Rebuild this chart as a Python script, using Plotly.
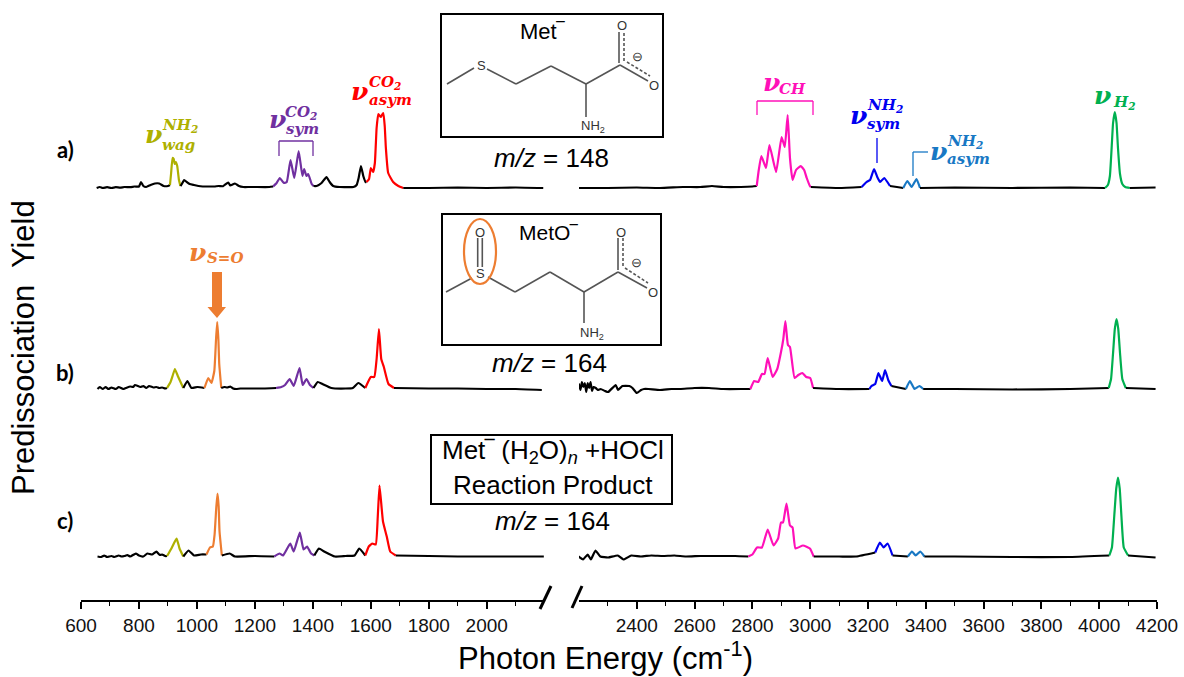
import plotly.graph_objects as go

W, H = 1184, 677

# ---------- data: photon energy (cm-1) and predissociation yield (arb.) ----------
a_left_x = [654,665,675,690,705,720,735,750,770,785,800,807,815,825,840,855,870,885,900,907,911,916,920,923,927,932,938,943,948,956,965,975,990,1005,1020,1040,1060,1075,1090,1108,1115,1131,1145,1160,1180,1200,1250,1263,1275,1286,1300,1310,1323,1336,1351,1364,1370,1378,1384,1396,1402,1413,1430,1447,1458,1470,1493,1540,1551,1558,1566,1574,1582,1585,1594,1600,1608,1614,1620,1626,1634,1643,1648,1652,1660,1677,1695,1712,1800,1900,2000,2100,2195]
a_left_y = [0,1,0,.8,0,.8,.3,1,.8,1.5,1.5,6,2,1,3,4.5,4.5,2,2,3,15,30,29,24,26,22,8,2,4,8,6,4,3,2,1.5,1.5,1.5,2,1.8,5.5,2.5,4.5,2,1,1,1,1,1.5,5,10,5,6,28,10,37,12,19,12,14,4,2,2,5,11,6,2,1,1,3,10,22,12,6,6,9,20,16,25,60,74,71,75,62,40,15,6,2,0,0,.5,0,.5,0]
a_right_x = [2200,2300,2400,2480,2560,2620,2660,2700,2760,2800,2815,2822,2831,2847,2859,2882,2901,2912,2922,2930,2939,2951,2967,2979,2988,2999,3002,3100,3178,3195,3207,3221,3232,3242,3256,3276,3300,3322,3336,3351,3368,3380,3500,3700,3900,4020,4030,4037,4043,4048,4054,4060,4065,4072,4080,4090,4106,4195]
a_right_y = [0,0,.5,0,1,1,2,1,1,1.5,2,18,32,20,43,16,51,41,73,30,8,18,22,18,10,2,1,0,1,6,8,19,11,6,10,2,1,0,7,1,9,0,.5,0,.5,0,3,12,40,65,76,65,40,14,4,1,0,.5]

b_left_x = [657,665,675,685,695,705,720,730,745,755,770,780,786,805,815,825,835,850,860,870,880,890,897,909,917,924,934,953,967,981,1002,1026,1039,1050,1060,1066,1070,1074,1077,1084,1095,1105,1115,1125,1135,1150,1175,1230,1273,1291,1304,1320,1334,1354,1365,1378,1390,1402,1417,1433,1464,1513,1538,1557,1581,1600,1612,1620,1628,1636,1645,1661,1680,1800,1900,2000,2100,2190]
b_left_y = [0,2,0,2,0,1.5,0,2,0,1,2.5,2,4,2,3,1,3,1.5,2,1,1.5,.5,1,7,14,20,13,1,8,1,2,1,11,6,18,50,67,50,25,1,2,1.5,2.5,.5,0,.5,.5,.5,1,2,4,10,3,21,4,10,4,1,7,5,1,.5,1,6,1,12,12,30,60,30,22,5,1,.5,.5,0,0,-1]
b_right_x = [2195,2200,2205,2210,2215,2220,2225,2230,2235,2240,2245,2250,2258,2265,2275,2290,2301,2327,2335,2350,2374,2385,2400,2415,2425,2440,2480,2520,2550,2600,2650,2700,2770,2793,2806,2820,2833,2842,2853,2870,2886,2899,2907,2914,2923,2930,2946,2959,2973,2986,3000,3010,3100,3205,3212,3225,3236,3249,3259,3270,3281,3331,3345,3361,3378,3391,3500,3700,3900,4033,4041,4048,4054,4060,4066,4072,4080,4092,4195]
b_right_y = [0,5,-1,7,2,6,-3,6,1,7,-2,2,1,-1,0,-2,-3,4,-1,3,3,1,-4,-1,0,0,-1,0,0,1,1,0,0,0,8,7,15,15,31,12,20,37,50,68,44,42,11,14,16,12,11,1,0,0,3,5,16,8,19,9,3,0,8,0,3,0,0,-.5,0,1,10,36,60,70,60,36,10,1,0]

c_left_x = [657,670,680,690,705,715,730,740,750,760,770,789,800,815,829,845,860,872,880,890,897,912,922,930,940,953,971,990,1014,1033,1045,1055,1061,1067,1071,1075,1078,1086,1113,1131,1200,1267,1285,1297,1322,1334,1355,1368,1380,1394,1405,1421,1439,1476,1513,1544,1560,1581,1593,1605,1617,1624,1630,1642,1655,1667,1686,1800,1900,2000,2100,2197]
c_left_y = [0,-.5,1,-.5,.5,-.5,1,0,.5,1.5,0,3,1,0,3,2,5,1.5,2,.5,.5,8,14,18,8,0,6,1,2,2,9,10,22,50,63,50,25,1,3,0,.5,0,3,1,13,5,24,7,10,3,1,8,5,0,.5,1,8,1,10,13,12,40,71,35,20,5,1,.5,0,0,0,0]
c_right_x = [2198,2214,2230,2241,2257,2274,2301,2334,2354,2381,2414,2450,2490,2530,2570,2620,2680,2740,2786,2800,2816,2833,2853,2873,2889,2899,2906,2918,2930,2939,2949,2975,2999,3012,3100,3159,3225,3241,3254,3268,3285,3338,3352,3365,3381,3395,3500,3700,3900,4035,4044,4052,4059,4065,4071,4077,4085,4100,4195]
c_right_y = [0,-3,2,-3,6,0,-1,1,-3,1,0,1,.5,1,0,.5,.5,.5,0,2,9,9,27,11,18,34,34,53,31,29,8,11,8,0,0,0,4,14,9,13,1,0,5,1,5,0,0,-.5,-.5,1,9,40,68,79,68,40,9,1,-1]

# colour families
olive = "#AEB000"; purple = "#7030A0"; red = "#FF0000"; magenta = "#FF10B8"
blue = "#0000F0"; sky = "#1878C4"; green = "#00B050"; orange = "#ED7D31"

a_bands = [(907, 943, olive), (1263, 1402, purple), (1585, 1712, red), (2815, 3002, magenta),
           (3178, 3276, blue), (3322, 3380, sky), (4020, 4106, green)]
b_bands = [(897, 953, olive), (1026, 1084, orange), (1273, 1402, purple), (1581, 1680, red),
           (2793, 3010, magenta), (3205, 3281, blue), (3331, 3391, sky), (4033, 4092, green)]
c_bands = [(897, 953, olive), (1033, 1086, orange), (1267, 1405, purple), (1581, 1686, red),
           (2786, 3012, magenta), (3225, 3285, blue), (3338, 3395, sky), (4035, 4100, green)]

a_offset, b_offset, c_offset = 412, 211, 43.5

left_ticks = [600, 800, 1000, 1200, 1400, 1600, 1800, 2000]
left_minor = [700, 900, 1100, 1300, 1500, 1700, 1900, 2100]
right_ticks = [2400, 2600, 2800, 3000, 3200, 3400, 3600, 3800, 4000, 4200]
right_minor = [2300, 2500, 2700, 2900, 3100, 3300, 3500, 3700, 3900, 4100]

def px(x): return x / W
def py(y): return 1 - y / H

fig = go.Figure()

def color_of(xv, bands):
    for lo, hi, c in bands:
        if lo <= xv < hi:
            return c
    return "black"

def add_spectrum(xs, ys, offset, bands, xaxis):
    start = 0
    for i in range(1, len(xs) + 1):
        if i == len(xs) or color_of(xs[i], bands) != color_of(xs[start], bands):
            end = min(i, len(xs) - 1)
            fig.add_trace(go.Scatter(
                x=xs[start:end + 1], y=[v + offset for v in ys[start:end + 1]],
                mode="lines", xaxis=xaxis, yaxis="y", hoverinfo="skip",
                line=dict(color=color_of(xs[start], bands), width=2.2, shape="spline", smoothing=0.4)))
            start = i

add_spectrum(a_left_x, a_left_y, a_offset, a_bands, "x")
add_spectrum(a_right_x, a_right_y, a_offset, a_bands, "x2")
add_spectrum(b_left_x, b_left_y, b_offset, b_bands, "x")
add_spectrum(b_right_x, b_right_y, b_offset, b_bands, "x2")
add_spectrum(c_left_x, c_left_y, c_offset, c_bands, "x")
add_spectrum(c_right_x, c_right_y, c_offset, c_bands, "x2")

shapes, ann = [], []

def seg(x0, y0, x1, y1, color="#555555", width=1.6, dash=None):
    shapes.append(dict(type="line", xref="paper", yref="paper", x0=px(x0), y0=py(y0), x1=px(x1), y1=py(y1),
                       line=dict(color=color, width=width, dash=dash)))

def rect(x0, y0, x1, y1, color="black", width=2, fill=None):
    shapes.append(dict(type="rect", xref="paper", yref="paper", x0=px(x0), y0=py(y0), x1=px(x1), y1=py(y1),
                       line=dict(color=color, width=width), fillcolor=fill))

def txt(x, y, s, size=16, color="black", family="Liberation Sans", angle=0, anchor="center"):
    ann.append(dict(x=px(x), y=py(y), xref="paper", yref="paper", text=s, showarrow=False,
                    font=dict(size=size, color=color, family=family), textangle=angle,
                    xanchor=anchor, yanchor="middle", align="center"))

SERIF = "DejaVu Serif"
def nu(x, y, color, size=25):
    txt(x, y, "<b><i>ν</i></b>", size=size, color=color, family=SERIF)
def lab(x, y, s, color, size=15):
    txt(x, y, "<b><i>" + s + "</i></b>", size=size, color=color, family=SERIF, anchor="left")

# band labels
nu(153, 135, olive); lab(160, 125, "NH<sub>2</sub>", olive); lab(160, 145, "wag", olive)
nu(277, 120, purple); lab(283, 112, "CO<sub>2</sub>", purple); lab(284, 129, "sym", purple)
nu(359, 92, red); lab(367, 82, "CO<sub>2</sub>", red); lab(367, 100, "asym", red)
nu(772, 82, magenta); lab(777, 89, "CH", magenta)
nu(858, 115, blue); lab(865, 106, "NH<sub>2</sub>", blue); lab(865, 124, "sym", blue)
nu(938, 151, sky); lab(945, 141, "NH<sub>2</sub>", sky); lab(945, 159, "asym", sky)
nu(1102, 95, green); lab(1111, 103, "H<sub>2</sub>", green)
nu(197, 253, orange); lab(205, 258, "S=O", orange)

# brackets and leader lines
seg(279, 156, 279, 141, purple, 1.3); seg(279, 141, 313, 141, purple, 1.3); seg(313, 141, 313, 156, purple, 1.3)
seg(757, 115, 757, 101, magenta, 1.3); seg(757, 101, 813, 101, magenta, 1.3); seg(813, 101, 813, 115, magenta, 1.3)
seg(877, 138, 877, 163, blue, 1.3)
seg(913, 176, 913, 152, sky, 1.3); seg(913, 152, 928, 152, sky, 1.3)

# orange arrow
shapes.append(dict(type="path", xref="paper", yref="paper", line=dict(width=0), fillcolor=orange,
    path=" ".join([f"M {px(212)} {py(272)}", f"L {px(222)} {py(272)}", f"L {px(222)} {py(307)}", f"L {px(226)} {py(307)}",
                   f"L {px(217)} {py(318)}", f"L {px(207.5)} {py(307)}", f"L {px(212)} {py(307)}", "Z"])))

# panel letters
FONT_B = "Lato"
txt(65, 150, "<b>a)</b>", 22, family=FONT_B); txt(65, 372, "<b>b)</b>", 22, family=FONT_B); txt(65, 520, "<b>c)</b>", 22, family=FONT_B)

# box 1: Met-
rect(441, 14, 663, 137)
txt(543, 32, "Met‾", 22)
seg(447, 84, 474, 68); txt(481, 65, "S", 13, "#333333"); seg(487, 69, 516, 84); seg(516, 84, 551, 66)
seg(551, 66, 586, 84); seg(586, 84, 620, 65); seg(586, 84, 586, 117); txt(593, 126, "NH<sub>2</sub>", 13, "#333333")
txt(622, 25, "O", 13, "#333333"); seg(619, 32, 619, 63); seg(624, 33, 624, 63, dash="3px,2px")
seg(620, 65, 648, 81); seg(627, 62, 650, 76, dash="3px,2px"); txt(654, 85, "O", 13, "#333333")
txt(637, 56, "⊖", 13, "#333333")
txt(551, 158, "<i>m/z</i> = 148", 26)

# box 2: MetO-
rect(442, 214, 661, 345)
txt(548, 232, "MetO‾", 21)
seg(446, 292, 472, 278); txt(480, 273, "S", 13, "#333333"); txt(480, 232, "O", 13, "#333333")
seg(477.7, 238, 477.7, 267); seg(482.3, 238, 482.3, 267)
seg(488, 277, 515, 292); seg(515, 292, 550, 272); seg(550, 272, 584, 292); seg(584, 292, 618, 272)
seg(584, 292, 584, 323); txt(592, 333, "NH<sub>2</sub>", 13, "#333333")
txt(621, 232, "O", 13, "#333333"); seg(618, 238, 618, 270); seg(623, 238, 623, 268, dash="3px,2px")
seg(618, 272, 647, 288); seg(625, 268, 648, 283, dash="3px,2px"); txt(653, 292, "O", 13, "#333333")
txt(636, 262, "⊖", 13, "#333333")
shapes.append(dict(type="circle", xref="paper", yref="paper", x0=px(464), x1=px(496), y0=py(219), y1=py(284),
                   line=dict(color=orange, width=2.2)))
txt(549, 363, "<i>m/z</i> = 164", 26)

# box 3: reaction product
rect(431, 435, 672, 504)
txt(553, 452, "Met‾ (H<sub>2</sub>O)<sub><i>n</i></sub> +HOCl", 26)
txt(553, 485, "Reaction Product", 26)
txt(552, 521, "<i>m/z</i> = 164", 26)

# axis break marks
seg(551, 586, 540, 609, "black", 3); seg(582, 586, 572, 608, "black", 3)

# axis titles
txt(23, 348, "Predissociation  Yield", 31, angle=-90)
txt(605, 656, "Photon Energy (cm<sup>-1</sup>)", 31)

axis_common = dict(showgrid=False, zeroline=False, showline=True, linecolor="black", linewidth=1.5,
                   ticks="outside", ticklen=7, tickwidth=1.5, tickcolor="black",
                   tickfont=dict(family="Liberation Sans", size=19, color="#111111"), anchor="y", automargin=False)

fig.update_layout(
    width=W, height=H, autosize=False, margin=dict(l=0, r=0, t=0, b=0),
    paper_bgcolor="white", plot_bgcolor="rgba(0,0,0,0)", showlegend=False, hovermode=False,
    xaxis=dict(domain=[81 / W, 544.7 / W], range=[600, 2200], tickmode="array", tickvals=left_ticks,
               minor=dict(tickmode="array", tickvals=left_minor, ticks="outside", ticklen=4, tickwidth=1.2, tickcolor="black"),
               **axis_common),
    xaxis2=dict(domain=[579 / W, 1157 / W], range=[2200, 4200], tickmode="array", tickvals=right_ticks,
                minor=dict(tickmode="array", tickvals=right_minor, ticks="outside", ticklen=4, tickwidth=1.2, tickcolor="black"),
                **axis_common),
    yaxis=dict(domain=[77 / H, 1], range=[0, 600], visible=False),
    shapes=shapes, annotations=ann)

fig.write_html("out.html", config={"displayModeBar": False},
               post_script="document.body.style.margin='0';document.documentElement.style.overflow='hidden';")
